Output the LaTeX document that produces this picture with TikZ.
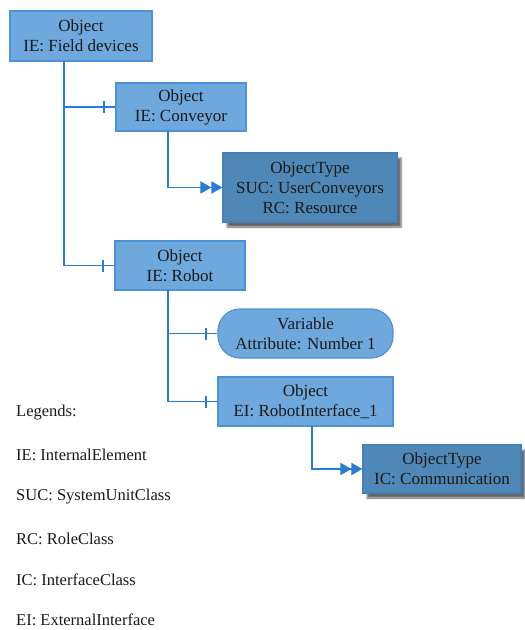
\documentclass[tikz,border=0pt]{standalone}
\usepackage{fontspec}
\setmainfont{Liberation Serif}
\usetikzlibrary{arrows.meta,shadows.blur}

\definecolor{boxfill}{RGB}{111,168,220}
\definecolor{boxedge}{RGB}{76,146,214}
\definecolor{typefill}{RGB}{79,136,182}
\definecolor{typeedge}{RGB}{66,128,190}
\definecolor{wire}{RGB}{40,124,212}
\definecolor{ink}{RGB}{25,25,25}

\tikzset{
  objbox/.style={draw=boxedge, fill=boxfill, line width=1.2pt, align=center,
    text=ink, inner sep=0pt, font=\fontsize{17}{20}\selectfont},
  varbox/.style={objbox, rounded corners=22pt},
  typebox/.style={objbox, draw=typeedge, fill=typefill,
    blur shadow={shadow xshift=4pt, shadow yshift=-5pt, shadow blur steps=6,
      shadow opacity=60}},
  wireline/.style={draw=wire, line width=1.9pt},
  typearrow/.style={wireline, -{Triangle[length=11pt,width=12pt]Triangle[length=11pt,width=12pt]}},
  legend/.style={anchor=west, text=ink, inner sep=0pt, font=\fontsize{16.5}{19}\selectfont},
}

\begin{document}
\begin{tikzpicture}[x=1pt, y=-1pt]
\useasboundingbox (0,0) rectangle (525,630);

% element nodes
\node[objbox, minimum width=142pt, minimum height=50pt] (field) at (81,36) {Object\\IE: Field devices};
\node[objbox, minimum width=130pt, minimum height=48pt] (conv) at (181,107) {Object\\IE: Conveyor};
\node[typebox, minimum width=174pt, minimum height=69pt] (uconv) at (310,187.5) {ObjectType\\SUC: UserConveyors\\RC: Resource};
\node[objbox, minimum width=130pt, minimum height=49pt] (robot) at (180,265.5) {Object\\IE: Robot};
\node[varbox, minimum width=175pt, minimum height=49pt] (var) at (305.5,333.5) {Variable\\Attribute: Number 1};
\node[objbox, minimum width=175pt, minimum height=49pt] (rif) at (305.5,401.5) {Object\\EI: RobotInterface\_1};
\node[typebox, minimum width=158pt, minimum height=48pt] (comm) at (442,469) {ObjectType\\IC: Communication};

% hierarchy connectors
\coordinate (t1) at (64,61);
\coordinate (t2) at (168,131);
\coordinate (t3) at (168,290);
\coordinate (t4) at (312,426);

\draw[wireline] (t1) |- (robot.west);
\draw[wireline] (t1 |- conv.west) -- (conv.west);
\draw[wireline] (t3) |- (rif.west);
\draw[wireline] (t3 |- var.west) -- (var.west);

% cross ticks near the child end
\foreach \n in {conv,robot,var,rif}
  \draw[wireline] ([xshift=-11pt,yshift=-6pt]\n.west) -- ([xshift=-11pt,yshift=6pt]\n.west);

% type references
\draw[typearrow] (t2) |- (uconv.west);
\draw[typearrow] (t4) |- (comm.west);

% legend
\node[legend] (lg0) at (16,413) {Legends:};
\node[legend] (lg1) at (16,455) {IE: InternalElement};
\node[legend] (lg2) at (16,497) {SUC: SystemUnitClass};
\node[legend] (lg3) at (16,539) {RC: RoleClass};
\node[legend] (lg4) at (16,580) {IC: InterfaceClass};
\node[legend] (lg5) at (16,620) {EI: ExternalInterface};
\end{tikzpicture}
\end{document}
